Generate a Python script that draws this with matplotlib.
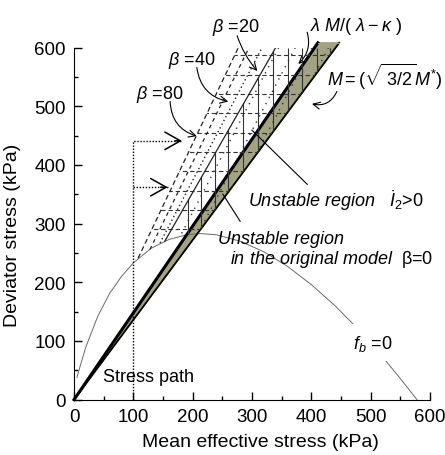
import numpy as np
import matplotlib.pyplot as plt
from matplotlib.patches import Polygon

plt.rcParams['font.family'] = ['Liberation Sans', 'DejaVu Sans']
plt.rcParams['mathtext.fontset'] = 'custom'
plt.rcParams['mathtext.it'] = 'Liberation Sans:italic'
plt.rcParams['mathtext.rm'] = 'Liberation Sans'

# bounding surface f_b = 0
fb_p = [5, 10, 20, 40, 60, 80, 100, 130, 160, 190, 213, 240, 280, 320, 360, 400, 440, 480, 520, 550, 578]
fb_q = [38, 56, 90, 142, 181, 210, 233, 258, 273, 281, 283, 281, 270, 252, 227, 196, 160, 119, 73, 36, 0]

# shaded band between the M line and the lambda*M/(lambda-kappa) line
band_p = [0, 411, 447]
band_q = [0, 608, 608]

# beta lines, from f_b = 0 up to q = 600
beta80_p, beta80_q = [108, 277], [241, 600]
beta40_p, beta40_q = [128, 295], [256, 600]
dot_p, dot_q = [145, 317], [267, 600]
beta20_p, beta20_q = [153, 340], [270, 600]

# hatching of the unstable regions
hatch_q = [290, 323, 356, 389, 422, 455, 488, 521, 554, 587]
hatch_p = [192, 214, 238, 260, 285, 310, 335, 360, 385, 410, 432]
diag_shift = [28, 56, 84, 112]

# stress path
path_p, path_q = [100, 100, 182], [0, 441, 441]
branch_p, branch_q = [100, 158], [362, 362]

fig = plt.figure(figsize=(4.45, 4.56), dpi=100)
ax = fig.add_axes([0.1663, 0.1213, 0.80, 0.7723])
ax.set_xlim(0, 600)
ax.set_ylim(0, 600)

m_lo = band_q[2] / band_p[2]
pp = np.linspace(fb_p[0], fb_p[-1], 800)
fq = np.interp(pp, fb_p, fb_q)
p_cross = pp[np.argmax(fq < m_lo * pp)]


def region(lp, lq):
    sel = (pp >= lp[0]) & (pp <= p_cross)
    verts = [(lp[0], lq[0]), (lp[1], lq[1]), (600 / m_lo, 600), (p_cross, m_lo * p_cross)]
    verts += list(zip(pp[sel][::-1], fq[sel][::-1]))
    patch = Polygon(verts, closed=True, facecolor='none', edgecolor='none')
    ax.add_patch(patch)
    return patch


# band
ax.fill(band_p, band_q, color='#a3a283', zorder=2, clip_on=False)
ax.plot(band_p[:2], band_q[:2], color='black', lw=2.2, zorder=3, clip_on=False)
ax.plot([band_p[0], band_p[2]], [band_q[0], band_q[2]], color='black', lw=1.3, zorder=3, clip_on=False)
ax.plot(band_p[1:], band_q[1:], color='#a3a283', lw=0.8, zorder=3, clip_on=False)

# f_b = 0
ax.plot(fb_p, fb_q, color='#6a6a6a', lw=0.7, zorder=2)

# hatching clipped to each region
hl = ax.hlines(hatch_q, 0, 600, colors='#333333', linestyles=(0, (4, 2.5)), lw=0.8, zorder=4)
hl.set_clip_path(region(beta80_p, beta80_q))
vl = ax.vlines(hatch_p, 0, 600, colors='#333333', lw=0.8, zorder=4)
vl.set_clip_path(region(beta20_p, beta20_q))
dreg = region(dot_p, dot_q)
slope = (dot_p[1] - dot_p[0]) / (dot_q[1] - dot_q[0])
for s in diag_shift:
    qq = np.array([0, 700])
    ln, = ax.plot(dot_p[0] + s + (qq - dot_q[0]) * slope, qq, color='#333333',
                  lw=1.0, ls=(0, (1, 4)), zorder=4)
    ln.set_clip_path(dreg)

# beta lines
ax.plot(beta80_p, beta80_q, color='#222222', lw=0.9, ls=(0, (4, 2.5)), zorder=4)
ax.plot(beta40_p, beta40_q, color='#222222', lw=0.9, ls=(0, (3, 3)), zorder=4)
ax.plot(dot_p, dot_q, color='#222222', lw=1.0, ls=(0, (1, 2)), zorder=4)
ax.plot(beta20_p, beta20_q, color='#222222', lw=0.9, zorder=4)

# stress path
ax.plot(path_p, path_q, color='black', lw=1.0, ls=(0, (1, 1.2)), zorder=5)
ax.plot(branch_p, branch_q, color='black', lw=1.0, ls=(0, (1, 1.2)), zorder=5)
for tp, tq in [(path_p[-1], path_q[-1]), (branch_p[-1], branch_q[-1])]:
    ax.annotate('', xy=(tp, tq), xytext=(tp - 12, tq),
                arrowprops=dict(arrowstyle='->,head_length=0.8,head_width=0.45',
                                lw=1.1, color='black', mutation_scale=14,
                                shrinkA=0, shrinkB=0))
ax.text(49, 40, 'Stress path', fontsize=13, ha='left', va='center', zorder=6)

# labels with curved arrows
arr = dict(arrowstyle='->,head_length=0.5,head_width=0.25', lw=0.8, color='black',
           shrinkA=0, shrinkB=0)
ax.text(145, 522, r'$\beta$ =80', fontsize=13, ha='center', va='center')
ax.annotate('', xy=(207, 449), xytext=(162, 508), annotation_clip=False,
            arrowprops=dict(connectionstyle='arc3,rad=0.35', **arr))
ax.text(199, 580, r'$\beta$ =40', fontsize=13, ha='center', va='center')
ax.annotate('', xy=(260, 508), xytext=(207, 566), annotation_clip=False,
            arrowprops=dict(connectionstyle='arc3,rad=0.35', **arr))
ax.text(273, 635, r'$\beta$ =20', fontsize=13, ha='center', va='center', clip_on=False)
ax.annotate('', xy=(309, 560), xytext=(275, 620), annotation_clip=False,
            arrowprops=dict(connectionstyle='arc3,rad=0.1', **arr))
ax.text(476, 638, r'$\lambda\ M/(\ \lambda-\kappa\ )$', fontsize=13, ha='center',
        va='center', clip_on=False)
ax.annotate('', xy=(378, 572), xytext=(393, 626), annotation_clip=False,
            arrowprops=dict(connectionstyle='arc3,rad=-0.3', **arr))
ax.text(427, 551, r'$M=(\sqrt{\;3/2}M^{*})$', fontsize=13, ha='left', va='center',
        clip_on=False)
ax.annotate('', xy=(401, 504), xytext=(443, 525), annotation_clip=False,
            arrowprops=dict(connectionstyle='arc3,rad=-0.4', **arr))

# region labels with leader lines
ax.plot([393, 300], [367, 459], color='black', lw=0.8, zorder=5)
ax.text(293, 340, r'$\mathit{Unstable\ region}$   $\dot{I}_{2}$>0', fontsize=13,
        ha='left', va='center', zorder=6)
ax.plot([280, 251], [304, 350], color='black', lw=0.8, zorder=5)
ax.text(243, 274, 'Unstable region', fontsize=13, style='italic', ha='left', va='center', zorder=6)
ax.text(263, 240, r'$\mathit{in\ the\ original\ model}$  $\mathrm{\beta}$=0', fontsize=13,
        ha='left', va='center', zorder=6)
ax.text(503, 97, r'$f_{b}$ =0', fontsize=13, ha='center', va='center', zorder=6,
        bbox=dict(facecolor='white', edgecolor='none', pad=6))

ax.spines['top'].set_visible(False)
ax.spines['right'].set_visible(False)
ax.set_xticks(np.arange(0, 601, 100))
ax.set_yticks(np.arange(0, 601, 100))
ax.set_xticks(np.arange(50, 600, 100), minor=True)
ax.set_yticks(np.arange(50, 600, 100), minor=True)
ax.tick_params(which='major', direction='in', length=6, width=1, labelsize=13.5, pad=6)
ax.tick_params(which='minor', direction='in', length=3, width=1)
ax.set_xlabel('Mean effective stress (kPa)', fontsize=14)
ax.set_ylabel('Deviator stress (kPa)', fontsize=14)
ax.xaxis.set_label_coords(0.525, -0.094)
ax.yaxis.set_label_coords(-0.148, 0.47)

fig.savefig('out.png', dpi=100)
